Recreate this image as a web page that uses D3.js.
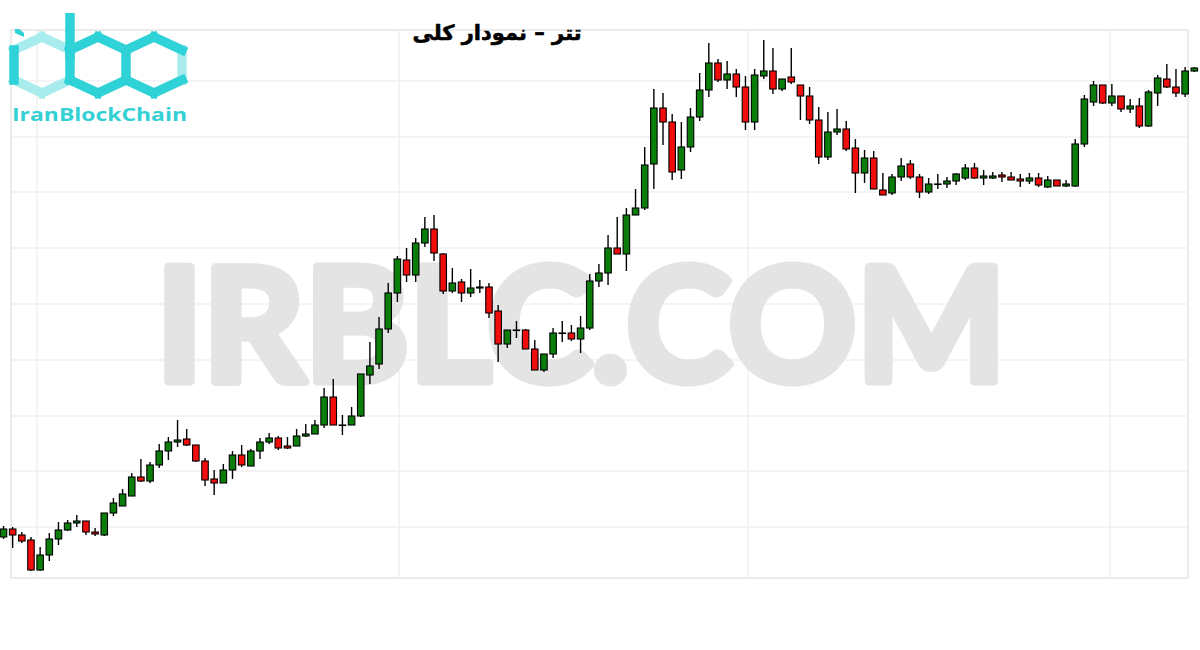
<!DOCTYPE html>
<html>
<head>
<meta charset="utf-8">
<script src="https://cdn.jsdelivr.net/npm/d3@7/dist/d3.min.js"></script>
<style>
  html, body { margin: 0; padding: 0; background: #fff; }
  svg { display: block; }
</style>
</head>
<body>
<div id="chart"></div>
<script>
const title = 'تتر  –  نمودار کلی';
const watermark = 'IRBLC.COM';
const brand = 'IranBlockChain';

// candle values (one entry per session)
const opens = [63, 71, 65, 60, 30, 45, 61, 70, 77, 79, 68, 65, 87, 94, 104, 123, 119, 135, 149, 158,
  161, 155, 139, 121, 117, 130, 145, 134, 149, 158, 162, 154, 154, 164, 166, 175, 203, 175, 175, 184,
  225, 236, 271, 307, 340, 325, 357, 371, 346, 309, 318, 307, 312, 313, 289, 256, 270, 270, 251, 230,
  246, 267, 267, 261, 272, 319, 327, 352, 346, 385, 392, 436, 492, 478, 430, 453, 483, 510, 537, 520,
  526, 513, 478, 524, 529, 511, 523, 515, 504, 480, 443, 468, 471, 452, 427, 442, 410, 407, 423, 436,
  423, 408, 416, 416, 419, 422, 432, 422, 422, 425, 423, 421, 419, 422, 413, 420, 414, 414, 456, 498,
  515, 497, 504, 491, 494, 474, 507, 521, 513, 506, 529];
const highs = [74, 73, 68, 63, 53, 67, 78, 80, 85, 79, 72, 87, 102, 111, 127, 141, 138, 156, 163, 180,
  171, 155, 142, 130, 136, 149, 155, 151, 162, 167, 164, 163, 171, 176, 180, 212, 221, 185, 193, 226,
  258, 283, 317, 344, 352, 362, 383, 385, 347, 332, 321, 331, 320, 317, 295, 270, 279, 271, 260, 246,
  272, 279, 275, 284, 326, 336, 365, 383, 392, 411, 453, 511, 507, 486, 478, 492, 527, 557, 541, 539,
  531, 524, 531, 560, 552, 521, 552, 515, 513, 493, 488, 491, 479, 461, 450, 449, 427, 426, 442, 440,
  426, 422, 426, 423, 427, 436, 437, 430, 428, 428, 428, 426, 427, 427, 424, 420, 420, 461, 505, 519,
  515, 516, 504, 501, 502, 510, 525, 536, 531, 533, 533];
const lows = [61, 52, 57, 29, 29, 39, 55, 69, 73, 65, 64, 64, 84, 94, 104, 118, 117, 132, 140, 153,
  154, 138, 114, 105, 117, 121, 133, 134, 141, 156, 150, 151, 154, 163, 166, 172, 175, 165, 175, 183,
  216, 231, 267, 298, 318, 318, 353, 339, 306, 307, 298, 303, 307, 282, 238, 252, 262, 251, 230, 228,
  242, 258, 259, 247, 270, 313, 315, 346, 329, 385, 390, 411, 455, 420, 421, 448, 479, 503, 518, 511,
  503, 470, 470, 521, 506, 509, 516, 480, 476, 436, 440, 465, 449, 407, 417, 411, 405, 405, 419, 421,
  402, 406, 411, 412, 415, 420, 421, 415, 421, 418, 420, 413, 416, 413, 412, 414, 413, 413, 453, 494,
  496, 494, 488, 487, 472, 473, 494, 512, 503, 503, 528];
const closes = [71, 65, 59, 30, 45, 61, 70, 77, 79, 68, 66, 87, 97, 106, 123, 119, 135, 149, 158, 160,
  155, 139, 120, 117, 130, 145, 135, 149, 158, 162, 152, 152, 164, 166, 175, 203, 175, 175, 184, 226,
  234, 271, 307, 341, 325, 357, 371, 347, 309, 317, 307, 312, 313, 287, 256, 270, 270, 251, 230, 246,
  267, 267, 261, 272, 319, 327, 352, 346, 385, 392, 435, 492, 478, 428, 453, 483, 510, 537, 520, 526,
  513, 478, 525, 529, 511, 521, 518, 504, 480, 443, 468, 471, 451, 427, 442, 411, 405, 423, 434, 423,
  408, 416, 416, 419, 426, 432, 422, 424, 424, 423, 420, 419, 422, 415, 420, 414, 416, 456, 501, 515,
  497, 504, 491, 494, 474, 508, 522, 513, 507, 529, 532];

// light grid (price levels and session indexes where the grid lines sit)
const gridLevels = [73, 129, 184, 240, 296, 352, 408, 463, 519];
const gridSessions = [3.65, 43.2, 81.3, 120.8];

const width = 1200, height = 650;
const frame = { left: 11, right: 1188, top: 30, bottom: 578 };

const candles = opens.map((o, i) => ({ i, o, h: highs[i], l: lows[i], c: closes[i] }));

const svg = d3.select('#chart').append('svg')
  .attr('width', width)
  .attr('height', height);

const x = d3.scaleLinear().domain([0, candles.length - 1]).range([3.5, 1194.3]);
const y = d3.scaleLinear().domain([0, 600]).range([600, 0]);

// frame + grid
svg.append('g')
  .selectAll('line')
  .data(gridLevels)
  .join('line')
  .attr('x1', frame.left).attr('x2', frame.right)
  .attr('y1', d => y(d)).attr('y2', d => y(d))
  .attr('stroke', '#f1f1f1')
  .attr('stroke-width', 1.5);

svg.append('g')
  .selectAll('line')
  .data(gridSessions)
  .join('line')
  .attr('x1', d => x(d)).attr('x2', d => x(d))
  .attr('y1', frame.top).attr('y2', frame.bottom)
  .attr('stroke', '#f1f1f1')
  .attr('stroke-width', 1.5);

svg.append('rect')
  .attr('x', frame.left).attr('y', frame.top)
  .attr('width', frame.right - frame.left)
  .attr('height', frame.bottom - frame.top)
  .attr('fill', 'none')
  .attr('stroke', '#ebebeb')
  .attr('stroke-width', 2);

// watermark (stroked to get the heavy look)
svg.append('text')
  .attr('x', 156).attr('y', 381)
  .attr('font-family', 'Lato, "Open Sans", sans-serif')
  .attr('font-weight', 'bold')
  .attr('font-size', 158)
  .attr('textLength', 850)
  .attr('lengthAdjust', 'spacingAndGlyphs')
  .attr('fill', '#e4e4e4')
  .attr('stroke', '#e4e4e4')
  .attr('stroke-width', 9)
  .attr('stroke-linejoin', 'round')
  .text(watermark);

// candles
const g = svg.append('g');

g.selectAll('line.wick')
  .data(candles)
  .join('line')
  .attr('class', 'wick')
  .attr('x1', d => x(d.i)).attr('x2', d => x(d.i))
  .attr('y1', d => y(d.h)).attr('y2', d => y(d.l))
  .attr('stroke', '#000')
  .attr('stroke-width', 1.4);

const bodyW = 6.5;
g.selectAll('rect.body')
  .data(candles)
  .join('rect')
  .attr('class', 'body')
  .attr('x', d => x(d.i) - bodyW / 2)
  .attr('y', d => y(Math.max(d.o, d.c)))
  .attr('width', bodyW)
  .attr('height', d => Math.max(Math.abs(y(d.o) - y(d.c)), 0.5))
  .attr('fill', d => d.c >= d.o ? '#0b7d0b' : '#f20d0d')
  .attr('stroke', '#000')
  .attr('stroke-width', 1.1);

// title
svg.append('text')
  .attr('x', 497).attr('y', 40)
  .attr('text-anchor', 'middle')
  .attr('direction', 'rtl')
  .attr('font-family', '"DejaVu Sans", sans-serif')
  .attr('font-weight', 'bold')
  .attr('font-size', 21)
  .attr('fill', '#000')
  .attr('stroke', '#000')
  .attr('stroke-width', 0.6)
  .text(title);

// logo
const logo = svg.append('g');
const hw = 28, hh = 28, side = 15, cy = 65;
const hexPts = cx => [
  [cx, cy - hh], [cx + hw, cy - side], [cx + hw, cy + side],
  [cx, cy + hh], [cx - hw, cy + side], [cx - hw, cy - side]
];
const strong = '#2fd2d6', light = '#a9eced';
const seg = (pts, a, b, col) => logo.append('line')
  .attr('x1', pts[a][0]).attr('y1', pts[a][1])
  .attr('x2', pts[b][0]).attr('y2', pts[b][1])
  .attr('stroke', col).attr('stroke-width', 9.5).attr('stroke-linecap', 'square');

const h1 = hexPts(42), h2 = hexPts(98), h3 = hexPts(154);
// light parts first
seg(h1, 5, 0, light); seg(h1, 0, 1, light); seg(h1, 3, 4, light); seg(h1, 2, 3, light);
seg(h3, 1, 2, light);
// strong parts
seg(h1, 4, 5, strong);
h2.forEach((p, k) => seg(h2, k, (k + 1) % 6, strong));
seg(h3, 5, 0, strong); seg(h3, 0, 1, strong); seg(h3, 2, 3, strong); seg(h3, 3, 4, strong);
logo.append('line')
  .attr('x1', 70).attr('x2', 70).attr('y1', 13).attr('y2', 60)
  .attr('stroke', strong).attr('stroke-width', 9.5);
logo.append('polygon')
  .attr('points', '15,29 19,29 24,33 24,37 15,33')
  .attr('fill', strong);

logo.append('text')
  .attr('x', 12).attr('y', 121)
  .attr('font-family', '"Open Sans", sans-serif')
  .attr('font-weight', 'bold')
  .attr('font-size', 17)
  .attr('textLength', 175)
  .attr('lengthAdjust', 'spacingAndGlyphs')
  .attr('fill', '#33d0d4')
  .text(brand);
</script>
</body>
</html>
